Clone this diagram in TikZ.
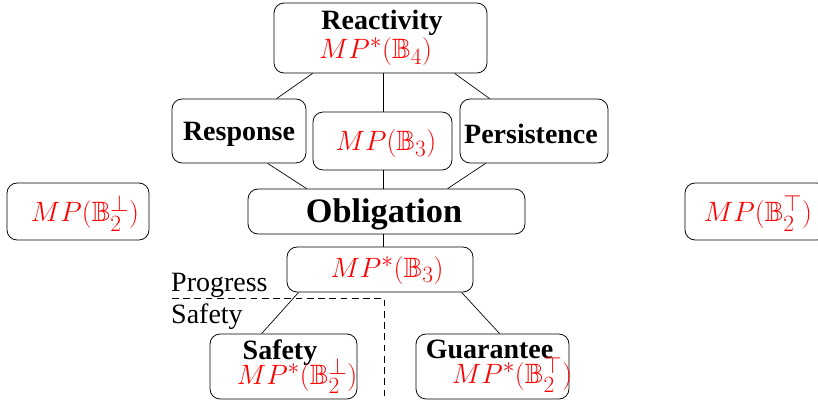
\documentclass[tikz,border=0pt]{standalone}
\usepackage{amssymb}
\usepackage{fontspec}
\setmainfont{Liberation Serif}
\usetikzlibrary{calc}
\newdimen\unitpx \unitpx=0.889pt
% place #3 centred at an offset of (#1,#2) px from the node centre line
\newcommand{\pl}[3]{\raisebox{-#2\unitpx}[\height][\depth]{\makebox[0pt]{\hspace*{2\dimexpr#1\unitpx\relax}#3}}}
\newcommand{\tightlines}{\lineskiplimit=-30pt\relax}
\newcommand{\bigfont}{\fontsize{24.88}{25.8}\selectfont\tightlines}
\newcommand{\boxfont}{\fontsize{24.88}{22.2}\selectfont\tightlines}
\newcommand{\oblfont}{\fontsize{30.5}{36}\selectfont}
\begin{document}
\begin{tikzpicture}[x=0.889pt,y=-0.889pt,
  box/.style 2 args={draw,rounded corners=9pt,line width=0.7pt,inner sep=0pt,
    align=center,minimum width=#1*0.889pt,minimum height=#2*0.889pt,
    font=\bigfont},
  conn/.style={line width=0.6pt},
  sep/.style={line width=0.6pt,dash pattern=on 6pt off 4pt},
  plain/.style={anchor=base west,inner sep=0pt,font=\bigfont}]
\useasboundingbox (0,0) rectangle (818,403);
% boxes with their texts
\node[box={213}{70}] (react) at (380.5,38)
  {\pl{1.5}{0}{\textbf{Reactivity}}\\\pl{-5}{0}{\textcolor{red}{$MP^*(\mathbb{B}_4)$}}};
\node[box={134}{64}] (resp) at (239,131) {\pl{0}{3}{\textbf{Response}}};
\node[box={139}{58}] (mpthree) at (382.5,141) {\pl{3.5}{3}{\textcolor{red}{$MP(\mathbb{B}_3)$}}};
\node[box={148}{64}] (pers) at (534,131) {\pl{-3}{3}{\textbf{Persistence}}};
\node[box={142}{57}] (leftb) at (78,211.5) {\pl{7}{2}{\textcolor{red}{$MP(\mathbb{B}_2^\bot)$}}};
\node[box={277}{45},font=\oblfont] (oblig) at (386.5,211.5) {\pl{-2.5}{3}{\textbf{Obligation}}};
\node[box={142}{57}] (rightb) at (756,211.5) {\pl{2}{2}{\textcolor{red}{$MP(\mathbb{B}_2^\top)$}}};
\node[box={186}{45}] (mpstar) at (380,269.5) {\pl{7}{1}{\textcolor{red}{$MP^*(\mathbb{B}_3)$}}};
\node[box={147}{65},font=\boxfont] (safe) at (283.5,366.5)
  {\pl{-3.5}{0}{\textbf{Safety}}\\\pl{13.5}{0}{\textcolor{red}{$MP^*(\mathbb{B}_2^\bot)$}}};
\node[box={153}{65},font=\boxfont] (guar) at (492.5,366.5)
  {\pl{-3}{0}{\textbf{Guarantee}}\\\pl{19.5}{0}{\textcolor{red}{$MP^*(\mathbb{B}_2^\top)$}}};
% side labels
\node[plain] (tprog) at (171,291) {Progress};
\node[plain] (tsafety) at (171,323) {Safety};
% connectors
\draw[conn] ($(react.south west)+(39,0)$) -- ($(resp.north west)+(105,0)$);
\draw[conn] ($(react.south west)+(181,0)$) -- ($(pers.north west)+(30,0)$);
\draw[conn] ($(react.south west)+(110,0)$) -- ($(mpthree.north west)+(71,0)$);
\draw[conn] ($(resp.south west)+(96,0)$) -- ($(oblig.north west)+(59,0)$);
\draw[conn] ($(pers.south west)+(26,0)$) -- ($(oblig.north west)+(200,0)$);
\draw[conn] ($(mpthree.south west)+(71,0)$) -- ($(oblig.north west)+(136,0)$);
\draw[conn] ($(oblig.south west)+(136,0)$) -- ($(mpstar.north west)+(97,0)$);
\draw[conn] ($(mpstar.south west)+(12,0)$) -- ($(safe.north west)+(52,0)$);
\draw[conn] ($(mpstar.south west)+(175,0)$) -- ($(guar.north west)+(84,0)$);
% progress / safety separator
\coordinate (sepa) at (172,298);
\coordinate (sepb) at (384,298);
\coordinate (sepc) at (384,398);
\draw[sep] (sepa) -- (sepb) -- (sepc);
\end{tikzpicture}
\end{document}
